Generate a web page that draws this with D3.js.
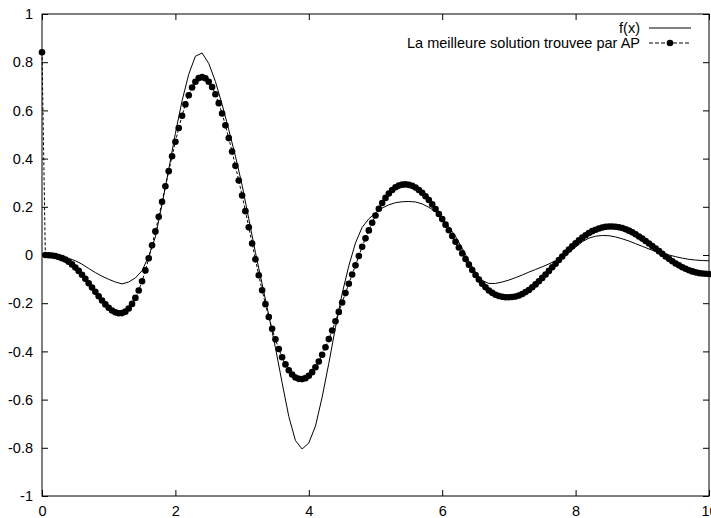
<!DOCTYPE html>
<html lang="fr">
<head>
    <meta charset="UTF-8">
    <title>f(x) et solution AP</title>
    <script src="https://d3js.org/d3.v7.min.js"></script>
    <style>
        body { margin: 0; background: #fff; }
        svg text { font-family: "Liberation Sans", Arial, Helvetica, sans-serif; font-size: 14.5px; fill: #000; }
    </style>
</head>
<body>
<div id="chart"></div>
<script>
    // f(x), sampled every 0.1 from 0 to 10
    var fxStep = 0.1;
    var fxValues = [
        0.000, -0.001, -0.003, -0.007, -0.014, -0.024, -0.038, -0.056, -0.073, -0.088,
        -0.101, -0.112, -0.120, -0.112, -0.095, -0.065, -0.005, 0.075, 0.210, 0.355,
        0.505, 0.640, 0.750, 0.825, 0.838, 0.795, 0.720, 0.625, 0.520, 0.410,
        0.290, 0.150, 0.010, -0.120, -0.250, -0.385, -0.530, -0.670, -0.770, -0.805,
        -0.780, -0.710, -0.590, -0.450, -0.300, -0.160, -0.045, 0.050, 0.115, 0.150,
        0.175, 0.195, 0.208, 0.217, 0.221, 0.222, 0.220, 0.212, 0.198, 0.180,
        0.152, 0.117, 0.077, 0.028, -0.025, -0.072, -0.106, -0.118, -0.118, -0.112,
        -0.104, -0.094, -0.083, -0.071, -0.060, -0.049, -0.037, -0.024, -0.010, 0.010,
        0.033, 0.055, 0.070, 0.078, 0.081, 0.080, 0.075, 0.067, 0.058, 0.047,
        0.036, 0.025, 0.015, 0.007, 0.000, -0.007, -0.013, -0.018, -0.021, -0.023,
        -0.024
    ];

    // best solution found by AP, one point every 0.05
    var apStep = 0.05;
    var apValues = [
        0.841, 0.000, -0.001, -0.002, -0.004, -0.008, -0.013, -0.019, -0.028, -0.039,
        -0.052, -0.066, -0.082, -0.099, -0.117, -0.135, -0.153, -0.171, -0.189, -0.205,
        -0.219, -0.230, -0.238, -0.242, -0.241, -0.235, -0.222, -0.203, -0.178, -0.147,
        -0.109, -0.064, -0.014, 0.040, 0.098, 0.159, 0.221, 0.285, 0.348, 0.410,
        0.470, 0.527, 0.578, 0.625, 0.663, 0.695, 0.719, 0.734, 0.738, 0.733,
        0.719, 0.697, 0.667, 0.630, 0.587, 0.538, 0.485, 0.429, 0.370, 0.309,
        0.247, 0.182, 0.115, 0.048, -0.018, -0.084, -0.146, -0.204, -0.257, -0.306,
        -0.350, -0.390, -0.424, -0.454, -0.478, -0.496, -0.508, -0.514, -0.515, -0.511,
        -0.501, -0.486, -0.466, -0.442, -0.414, -0.383, -0.349, -0.313, -0.275, -0.236,
        -0.197, -0.158, -0.119, -0.081, -0.043, -0.004, 0.034, 0.069, 0.102, 0.134,
        0.164, 0.192, 0.216, 0.237, 0.255, 0.270, 0.281, 0.288, 0.292, 0.293,
        0.291, 0.287, 0.280, 0.270, 0.258, 0.244, 0.228, 0.210, 0.191, 0.170,
        0.149, 0.126, 0.103, 0.079, 0.055, 0.031, 0.007, -0.017, -0.040, -0.062,
        -0.083, -0.102, -0.119, -0.134, -0.147, -0.157, -0.165, -0.170, -0.173, -0.175,
        -0.175, -0.174, -0.172, -0.168, -0.162, -0.154, -0.145, -0.134, -0.122, -0.109,
        -0.095, -0.081, -0.066, -0.051, -0.036, -0.021, -0.006, 0.009, 0.023, 0.036,
        0.049, 0.061, 0.072, 0.082, 0.091, 0.099, 0.105, 0.110, 0.114, 0.117,
        0.118, 0.118, 0.117, 0.115, 0.112, 0.107, 0.101, 0.094, 0.086, 0.077,
        0.068, 0.058, 0.048, 0.037, 0.027, 0.016, 0.005, -0.006, -0.016, -0.026,
        -0.035, -0.043, -0.051, -0.057, -0.063, -0.068, -0.072, -0.075, -0.077, -0.078,
        -0.079
    ];

    var xTicks = [0, 2, 4, 6, 8, 10];
    var yTicks = [-1, -0.8, -0.6, -0.4, -0.2, 0, 0.2, 0.4, 0.6, 0.8, 1];
    var legendLabels = ["f(x)", "La meilleure solution trouvee par AP"];

    var width = 711, height = 518;
    var plot = { left: 42, right: 709, top: 14, bottom: 496 };
    var tick = 6;

    var svg = d3.select("#chart").append("svg")
        .attr("width", width)
        .attr("height", height);

    var x = d3.scaleLinear().domain([0, 10]).range([plot.left, plot.right]);
    var y = d3.scaleLinear().domain([-1, 1]).range([plot.bottom, plot.top]);

    // gnuplot style labels: plain hyphen for the minus sign
    var fmt = d3.formatLocale({ decimal: ".", thousands: ",", grouping: [3], currency: ["", ""], minus: "-" }).format("");
    var label = function(d) { return fmt(+d.toFixed(1)); };

    // axes, ticks pointing inward, mirrored on top and right
    svg.append("g")
        .attr("transform", "translate(0," + plot.bottom + ")")
        .call(d3.axisBottom(x).tickValues(xTicks).tickSizeInner(-tick).tickSizeOuter(0).tickPadding(10).tickFormat(label));
    svg.append("g")
        .attr("transform", "translate(" + plot.left + ",0)")
        .call(d3.axisLeft(y).tickValues(yTicks).tickSizeInner(-tick).tickSizeOuter(0).tickPadding(9).tickFormat(label));
    svg.append("g")
        .attr("transform", "translate(0," + plot.top + ")")
        .call(d3.axisTop(x).tickValues(xTicks).tickSizeInner(-tick).tickSizeOuter(0).tickFormat(""));
    svg.append("g")
        .attr("transform", "translate(" + plot.right + ",0)")
        .call(d3.axisRight(y).tickValues(yTicks).tickSizeInner(-tick).tickSizeOuter(0).tickFormat(""));

    svg.selectAll(".domain").remove();
    svg.selectAll(".tick line").attr("stroke", "#000");
    svg.selectAll(".tick text").attr("font-size", null).attr("font-family", null);

    svg.append("rect")
        .attr("x", plot.left)
        .attr("y", plot.top)
        .attr("width", plot.right - plot.left)
        .attr("height", plot.bottom - plot.top)
        .attr("fill", "none")
        .attr("stroke", "#000")
        .attr("stroke-width", 1);

    var fxData = fxValues.map(function(v, i) { return [i * fxStep, v]; });
    var apData = apValues.map(function(v, i) { return [i * apStep, v]; });

    var line = d3.line()
        .x(function(d) { return x(d[0]); })
        .y(function(d) { return y(d[1]); });

    svg.append("path")
        .datum(fxData)
        .attr("d", line)
        .attr("fill", "none")
        .attr("stroke", "#000")
        .attr("stroke-width", 1);

    svg.append("path")
        .datum(apData)
        .attr("d", line)
        .attr("fill", "none")
        .attr("stroke", "#000")
        .attr("stroke-width", 1)
        .attr("stroke-dasharray", "3,2");

    svg.append("g").selectAll("circle")
        .data(apData)
        .enter().append("circle")
        .attr("cx", function(d) { return x(d[0]); })
        .attr("cy", function(d) { return y(d[1]); })
        .attr("r", 3.3)
        .attr("fill", "#000");

    // legend
    var legend = svg.append("g");
    var legendRows = [28, 43];
    legendLabels.forEach(function(text, i) {
        var ly = legendRows[i];
        legend.append("text")
            .attr("x", 640)
            .attr("y", ly)
            .attr("dy", "0.35em")
            .attr("text-anchor", "end")
            .text(text);
        legend.append("line")
            .attr("x1", 649).attr("x2", 691)
            .attr("y1", ly).attr("y2", ly)
            .attr("stroke", "#000")
            .attr("stroke-width", 1)
            .attr("stroke-dasharray", i === 1 ? "4,2" : null);
        if (i === 1) {
            legend.append("circle")
                .attr("cx", 670).attr("cy", ly)
                .attr("r", 3.3)
                .attr("fill", "#000");
        }
    });
</script>
</body>
</html>
